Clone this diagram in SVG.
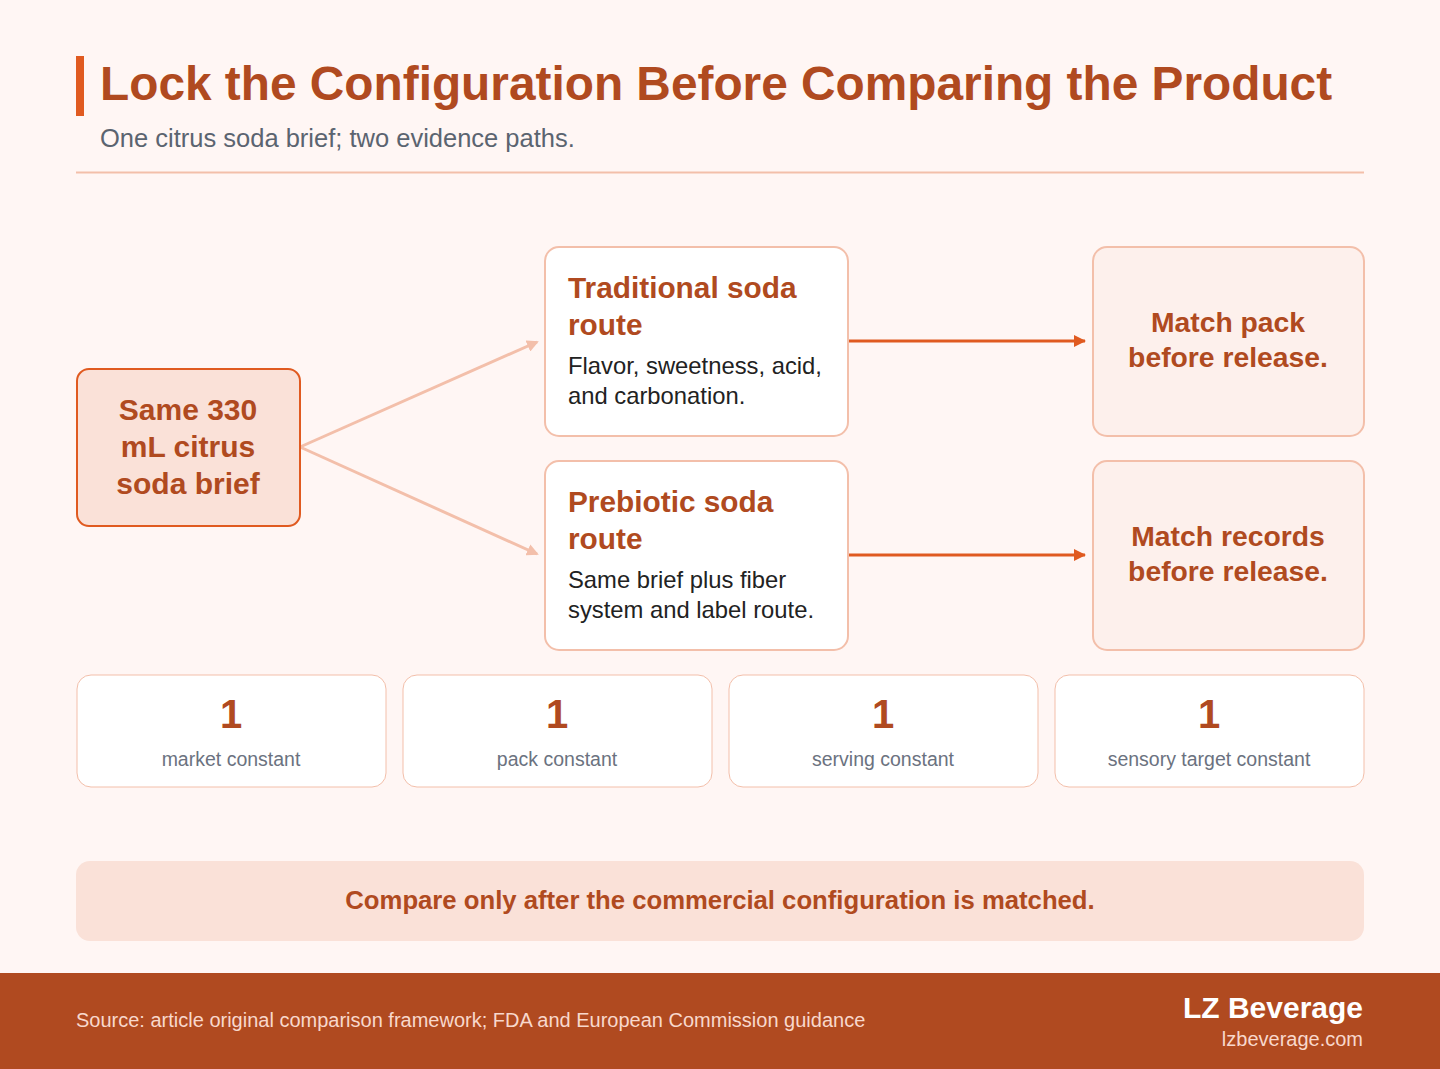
<svg xmlns="http://www.w3.org/2000/svg" width="1440" height="1069" viewBox="0 0 1440 1069">
<defs>
<style>
text{font-family:"Liberation Sans",Arial,sans-serif}
.b{font-weight:bold}
.title{font-size:47.8px;fill:#B04A20;font-weight:bold}
.sub{font-size:25.5px;fill:#5B6470}
.src{font-size:30px;fill:#B04A20;font-weight:bold}
.h{font-size:29.8px;fill:#B04A20;font-weight:bold}
.body{font-size:23.8px;fill:#222}
.m{font-size:28.3px;fill:#B04A20;font-weight:bold}
.num{font-size:40px;fill:#B04A20;font-weight:bold}
.lab{font-size:19.5px;fill:#6B7280}
.card{fill:#fff;stroke:#F3BFAA;stroke-width:2}
.mcard{fill:#FDF0EC;stroke:#F3BFAA;stroke-width:2}
.scard{fill:#fff;stroke:#F3BFAA;stroke-width:1}
</style>
<marker id="ao" markerWidth="12" markerHeight="12" refX="11" refY="6" orient="auto" markerUnits="userSpaceOnUse" viewBox="0 0 12 12"><path d="M0,0 L12,6 L0,12 z" fill="#E05A20"/></marker>
<marker id="ap" markerWidth="12" markerHeight="12" refX="10" refY="6" orient="auto" markerUnits="userSpaceOnUse" viewBox="0 0 12 12"><path d="M0,0 L12,6 L0,12 z" fill="#F3BFAA"/></marker>
</defs>
<rect width="1440" height="1069" fill="#FFF6F4"/>
<g id="header">
<rect x="76" y="56" width="8" height="60" fill="#E05A20"/>
<text x="100" y="100" class="title">Lock the Configuration Before Comparing the Product</text>
<text x="100" y="147" class="sub">One citrus soda brief; two evidence paths.</text>
<line x1="76" y1="172.5" x2="1364" y2="172.5" stroke="#F3BFAA" stroke-width="2"/>
</g>
<g id="connectors" fill="none" stroke-width="3">
<line x1="300" y1="447" x2="537" y2="342" stroke="#F3BFAA" marker-end="url(#ap)"/>
<line x1="300" y1="447" x2="537" y2="554" stroke="#F3BFAA" marker-end="url(#ap)"/>
<line x1="848" y1="341" x2="1085" y2="341" stroke="#E05A20" marker-end="url(#ao)"/>
<line x1="848" y1="555" x2="1085" y2="555" stroke="#E05A20" marker-end="url(#ao)"/>
</g>
<g id="source">
<rect x="77" y="369" width="223" height="157" rx="12" fill="#FAE1D8" stroke="#E05A20" stroke-width="2"/>
<text x="188" y="420" text-anchor="middle" class="src">Same 330</text>
<text x="188" y="457" text-anchor="middle" class="src">mL citrus</text>
<text x="188" y="494" text-anchor="middle" class="src">soda brief</text>
</g>
<g id="traditional">
<rect x="545" y="247" width="303" height="189" rx="14" class="card"/>
<text x="568" y="298" class="h">Traditional soda</text>
<text x="568" y="335" class="h">route</text>
<text x="568" y="374" class="body">Flavor, sweetness, acid,</text>
<text x="568" y="404" class="body">and carbonation.</text>
</g>
<g id="prebiotic">
<rect x="545" y="461" width="303" height="189" rx="14" class="card"/>
<text x="568" y="512" class="h">Prebiotic soda</text>
<text x="568" y="549" class="h">route</text>
<text x="568" y="588" class="body">Same brief plus fiber</text>
<text x="568" y="618" class="body">system and label route.</text>
</g>
<g id="match-pack">
<rect x="1093" y="247" width="271" height="189" rx="14" class="mcard"/>
<text x="1228" y="332" text-anchor="middle" class="m">Match pack</text>
<text x="1228" y="367" text-anchor="middle" class="m">before release.</text>
</g>
<g id="match-records">
<rect x="1093" y="461" width="271" height="189" rx="14" class="mcard"/>
<text x="1228" y="546" text-anchor="middle" class="m">Match records</text>
<text x="1228" y="581" text-anchor="middle" class="m">before release.</text>
</g>
<g id="stat-market">
<rect x="77" y="675" width="309" height="112" rx="14" class="scard"/>
<text x="231" y="728" text-anchor="middle" class="num">1</text>
<text x="231" y="766" text-anchor="middle" class="lab">market constant</text>
</g>
<g id="stat-pack">
<rect x="403" y="675" width="309" height="112" rx="14" class="scard"/>
<text x="557" y="728" text-anchor="middle" class="num">1</text>
<text x="557" y="766" text-anchor="middle" class="lab">pack constant</text>
</g>
<g id="stat-serving">
<rect x="729" y="675" width="309" height="112" rx="14" class="scard"/>
<text x="883" y="728" text-anchor="middle" class="num">1</text>
<text x="883" y="766" text-anchor="middle" class="lab">serving constant</text>
</g>
<g id="stat-sensory">
<rect x="1055" y="675" width="309" height="112" rx="14" class="scard"/>
<text x="1209" y="728" text-anchor="middle" class="num">1</text>
<text x="1209" y="766" text-anchor="middle" class="lab">sensory target constant</text>
</g>
<g id="banner">
<rect x="76" y="861" width="1288" height="80" rx="14" fill="#FAE1D8"/>
<text x="720" y="909" text-anchor="middle" font-size="25.7" class="b" fill="#B04A20">Compare only after the commercial configuration is matched.</text>
</g>
<g id="footer">
<rect x="0" y="973" width="1440" height="96" fill="#B04A20"/>
<text x="76" y="1027" font-size="20" fill="#F8D8CC">Source: article original comparison framework; FDA and European Commission guidance</text>
<text x="1363" y="1018" text-anchor="end" font-size="30" class="b" fill="#fff">LZ Beverage</text>
<text x="1363" y="1046" text-anchor="end" font-size="20" fill="#F8D8CC">lzbeverage.com</text>
</g>
</svg>
